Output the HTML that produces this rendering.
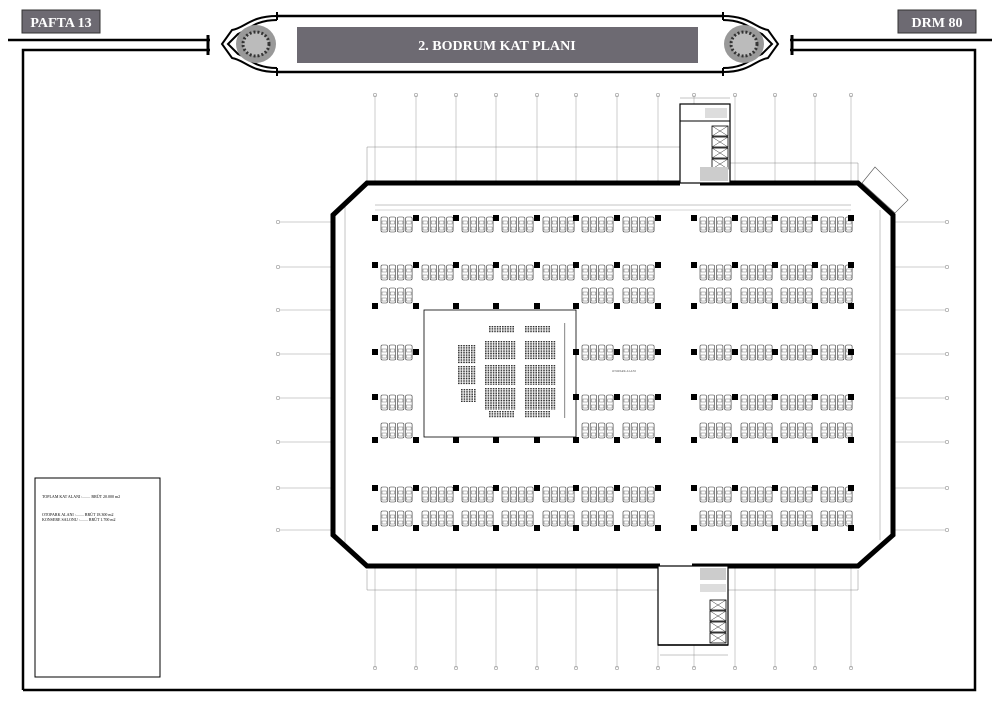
<!DOCTYPE html>
<html><head><meta charset="utf-8"><style>
body{margin:0;background:#fff;width:1000px;height:707px;overflow:hidden;font-family:"Liberation Serif",serif}
svg{position:absolute;left:0;top:0}
</style></head><body>
<svg id="s" width="1000" height="707" viewBox="0 0 1000 707" xmlns="http://www.w3.org/2000/svg">
<rect x="0" y="0" width="1000" height="707" fill="#fff"/>
<g stroke="#000" fill="none">
<line x1="8" y1="40" x2="210" y2="40" stroke-width="2.5"/>
<polyline points="23,690 23,50 210,50" stroke-width="2.5"/>
<line x1="208" y1="35" x2="208" y2="55" stroke-width="3"/>
<line x1="790" y1="40" x2="992" y2="40" stroke-width="2.5"/>
<polyline points="790,50 975,50 975,690 23,690" stroke-width="2.5"/>
<line x1="792" y1="35" x2="792" y2="55" stroke-width="3"/>
<line x1="277" y1="16" x2="723" y2="16" stroke-width="2.5"/>
<line x1="277" y1="72" x2="723" y2="72" stroke-width="2.5"/>
<line x1="277" y1="12" x2="277" y2="20" stroke-width="2"/><line x1="723" y1="12" x2="723" y2="20" stroke-width="2"/>
<line x1="277" y1="68" x2="277" y2="76" stroke-width="2"/><line x1="723" y1="68" x2="723" y2="76" stroke-width="2"/>
<path d="M277,16 C250,16 245,28 232,30 L222,44 L232,58 C245,60 250,72 277,72 M277,20 C255,20 248,30 238,34 L228,44 L238,54 C248,58 255,68 277,68" stroke-width="2"/>
<path d="M723,16 C750,16 755,28 768,30 L778,44 L768,58 C755,60 750,72 723,72 M723,20 C745,20 752,30 762,34 L772,44 L762,54 C752,58 745,68 723,68" stroke-width="2"/>
</g>
<ellipse cx="256" cy="44" rx="20" ry="19" fill="#999"/><ellipse cx="256" cy="44" rx="13" ry="12" fill="#bbb" stroke="#333" stroke-width="3" stroke-dasharray="2 2"/>
<ellipse cx="744" cy="44" rx="20" ry="19" fill="#999"/><ellipse cx="744" cy="44" rx="13" ry="12" fill="#bbb" stroke="#333" stroke-width="3" stroke-dasharray="2 2"/>
<rect x="22" y="10" width="78" height="23" fill="#6d6a72" stroke="#333"/>
<text x="61" y="27" fill="#fff" font-size="14" font-weight="bold" text-anchor="middle" font-family="Liberation Serif">PAFTA 13</text>
<rect x="898" y="10" width="78" height="23" fill="#6d6a72" stroke="#333"/>
<text x="937" y="27" fill="#fff" font-size="14" font-weight="bold" text-anchor="middle" font-family="Liberation Serif">DRM 80</text>
<rect x="297" y="27" width="401" height="36" fill="#6d6a72"/>
<text x="497" y="50" fill="#fff" font-size="14" font-weight="bold" text-anchor="middle" font-family="Liberation Serif">2. BODRUM KAT PLANI</text>
<rect x="35" y="478" width="125" height="199" fill="none" stroke="#000" stroke-width="1"/>
<g font-size="4" font-family="Liberation Serif">
<text x="42" y="498">TOPLAM KAT ALANI  :........ BRÜT 20.000 m2</text>
<text x="42" y="516">OTOPARK ALANI      :........ BRÜT 18.300 m2</text>
<text x="42" y="521">KONSERE SALONU     :........ BRÜT  1.700 m2</text>
</g>
<g id="g"></g>
</svg>
<script>
var g=document.getElementById('g'),h='';
function L(a,b,c,d,w,col){h+='<line x1="'+a+'" y1="'+b+'" x2="'+c+'" y2="'+d+'" stroke="'+(col||'#000')+'" stroke-width="'+(w||0.5)+'"/>';}
function R(x,y,w,hh,f,s,sw){h+='<rect x="'+x+'" y="'+y+'" width="'+w+'" height="'+hh+'" fill="'+(f||'none')+'" stroke="'+(s||'none')+'" stroke-width="'+(sw||0.5)+'"/>';}
var cx=[375,416,456,496,537,576,617,658,694,735,775,815,851];
cx.forEach(function(x){L(x,95,x,183,0.5,'#999');h+='<circle cx="'+x+'" cy="95" r="1.8" fill="none" stroke="#777" stroke-width="0.5"/>';L(x,566,x,668,0.5,'#999');h+='<circle cx="'+x+'" cy="668" r="1.8" fill="none" stroke="#777" stroke-width="0.5"/>';});
var ry=[222,267,310,354,398,442,488,530];
ry.forEach(function(y){L(280,y,333,y,0.5,'#999');L(895,y,945,y,0.5,'#999');h+='<circle cx="278" cy="'+y+'" r="1.8" fill="none" stroke="#777" stroke-width="0.5"/><circle cx="947" cy="'+y+'" r="1.8" fill="none" stroke="#777" stroke-width="0.5"/>';});
L(367,147,680,147,0.5,'#888');L(367,147,367,183,0.5,'#888');L(730,163,858,163,0.5,'#888');L(858,163,858,183,0.5,'#888');
L(367,590,660,590,0.5,'#888');L(367,570,367,590,0.5,'#888');L(728,590,858,590,0.5,'#888');L(858,570,858,590,0.5,'#888');
L(345,205,345,545,0.5,'#888');L(880,210,880,540,0.5,'#888');L(375,205,851,205,0.5,'#888');
h+='<polyline points="680,183 367,183 333,215 333,535 367,566 660,566" fill="none" stroke="#000" stroke-width="5"/>';
h+='<polyline points="700,183 858,183 893,215 893,535 858,566 692,566" fill="none" stroke="#000" stroke-width="5"/>';
h+='<polygon points="862,183 875,167 908,200 895,213" fill="#fff" stroke="#555" stroke-width="0.6"/>';
R(680,104,50,79,'#fff','#000',1.2);L(680,121,730,121,1);
for(var i=0;i<4;i++){R(712,126+i*11,16,10,'none','#000',0.8);L(712,126+i*11,728,136+i*11,0.4);L(728,126+i*11,712,136+i*11,0.4);}
R(700,167,28,14,'#ccc');R(705,108,22,10,'#ddd');
R(658,566,70,79,'#fff','#000',1.2);L(658,645,728,645,1.5);
for(var i=0;i<4;i++){R(710,600+i*11,16,10,'none','#000',0.8);L(710,600+i*11,726,610+i*11,0.4);L(726,600+i*11,710,610+i*11,0.4);}
R(700,568,26,12,'#ccc');R(700,584,26,8,'#ddd');
L(660,655,728,655,0.5,'#888');L(680,98,730,98,0.5,'#888');
R(424,310,152,127,'#fff','#000',0.8);
function seats(x,y,cols,rows){for(var c=0;c<cols;c++)for(var r=0;r<rows;r++)R(x+c*2.6,y+r*1.7,1.6,1.1,'#333');}
seats(489,326,10,4);seats(525,326,10,4);
seats(485,341,12,11);seats(525,341,12,11);
seats(485,365,12,12);seats(525,365,12,12);
seats(485,388,12,13);seats(525,388,12,13);
seats(489,411,10,4);seats(525,411,10,4);
seats(458,345,7,11);seats(458,366,7,11);seats(461,389,6,8);
R(564,323,1.2,95,'#999');
function cars(x1,y){for(var k=0;k<4;k++){var x=x1+6+k*8.2;h+='<rect x="'+x+'" y="'+y+'" width="6.5" height="15" rx="1.5" fill="none" stroke="#333" stroke-width="0.6"/>';R(x+1,y+4,4.5,3,'none','#555',0.4);R(x+1,y+10,4.5,3,'none','#555',0.4);}}
function rowCars(y,gaps){gaps.forEach(function(i){cars(cx[i],y);});}
var all=[0,1,2,3,4,5,6,8,9,10,11];
var part=[0,5,6,8,9,10,11];
rowCars(217,all);rowCars(265,all);rowCars(288,part);rowCars(345,part);rowCars(395,part);rowCars(423,part);rowCars(487,all);rowCars(511,all);
function cols(y,list){list.forEach(function(i){R(cx[i]-3,y-3,6,6,'#000');});}
var allc=[0,1,2,3,4,5,6,7,8,9,10,11,12];
cols(218,allc);cols(265,allc);cols(306,allc);cols(352,[0,1,5,6,7,8,9,10,11,12]);cols(397,[0,5,6,7,8,9,10,11,12]);cols(440,allc);cols(488,allc);cols(528,allc);
L(375,210,851,210,0.5,'#aaa');
h+='<text x="612" y="372" font-size="3" fill="#555">OTOPARK ALANI</text>';
g.innerHTML=h;
</script>
</body></html>
